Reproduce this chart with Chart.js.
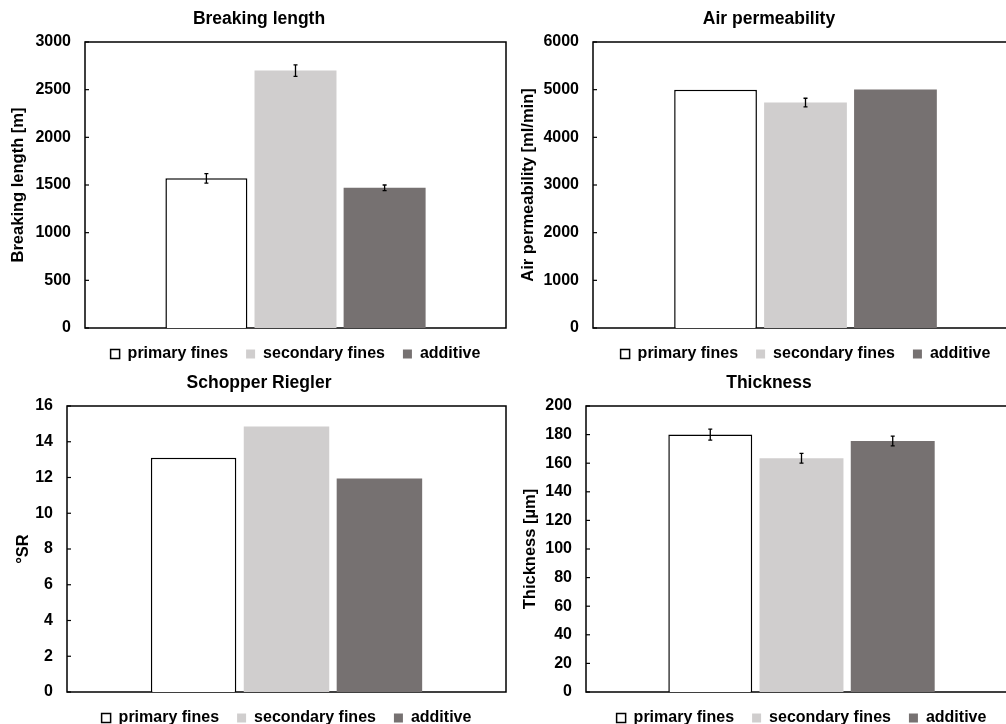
<!DOCTYPE html>
<html>
<head>
<meta charset="utf-8">
<script src="https://cdn.jsdelivr.net/npm/chart.js@4"></script>
<style>
  html, body { margin: 0; padding: 0; background: #fff; width: 1006px; height: 724px; overflow: hidden; position: relative; }
  canvas { position: absolute; }
</style>
</head>
<body>
<canvas id="c0" width="518" height="374" style="left:0px;top:0px"></canvas>
<canvas id="c1" width="526" height="374" style="left:506px;top:0px"></canvas>
<canvas id="c2" width="518" height="374" style="left:0px;top:362px"></canvas>
<canvas id="c3" width="526" height="374" style="left:506px;top:362px"></canvas>
<script>
// data
const seriesNames = ['primary fines', 'secondary fines', 'additive'];
const panelTitles = ['Breaking length', 'Air permeability', 'Schopper Riegler', 'Thickness'];
const axisTitles = ['Breaking length [m]', 'Air permeability [ml/min]', '°SR', 'Thickness [µm]'];

const breakingLength = [1570, 2700, 1470];
const breakingLengthErr = [50, 60, 30];
const airPermeability = [5000, 4730, 5005];
const airPermeabilityErr = [0, 90, 0];
const schopperRiegler = [13.1, 14.85, 11.95];
const schopperRieglerErr = [0, 0, 0];
const thickness = [180, 163.5, 175.5];
const thicknessErr = [3.8, 3.4, 3.4];

const axisMax = [3000, 6000, 16, 200];
const axisStep = [500, 1000, 2, 20];

const values = [breakingLength, airPermeability, schopperRiegler, thickness];
const errors = [breakingLengthErr, airPermeabilityErr, schopperRieglerErr, thicknessErr];

const fillColors = ['#ffffff', '#d0cece', '#767171'];
const borderWidths = [1.5, 0, 0];

// layout of each panel (pixels)
const layoutInfo = [
  { yw: 85, rw: 12, tTop: 8.5, tBot: 12.5, yPad: 8.1, pBot: 2 },
  { yw: 87, rw: 14, tTop: 8.5, tBot: 12.5, yPad: 12.1, pBot: 2 },
  { yw: 67, rw: 12, tTop: 10.5, tBot: 12.5, yPad: 13.1, pBot: 0 },
  { yw: 80, rw: 15, tTop: 10.5, tBot: 12.5, yPad: 14.1, pBot: 0 }
];

const FONT = 'Liberation Sans, Arial, sans-serif';
Chart.defaults.font.family = FONT;
Chart.defaults.color = '#000';

// plot frame with small inside ticks
const frame = {
  id: 'frame',
  beforeDatasetsDraw(chart) {
    const a = chart.chartArea, ctx = chart.ctx, y = chart.scales.y;
    ctx.save();
    ctx.strokeStyle = '#000';
    ctx.lineWidth = 1.5;
    ctx.strokeRect(a.left, a.top, a.right - a.left, a.bottom - a.top);
    ctx.lineWidth = 1.2;
    y.ticks.forEach(t => {
      const py = y.getPixelForValue(t.value);
      ctx.beginPath();
      ctx.moveTo(a.left, py);
      ctx.lineTo(a.left + 4, py);
      ctx.stroke();
    });
    ctx.restore();
  }
};

// error bars from the err arrays
const errorBars = {
  id: 'errorBars',
  afterDatasetsDraw(chart, args, opts) {
    const ctx = chart.ctx, y = chart.scales.y;
    ctx.save();
    ctx.strokeStyle = '#000';
    ctx.lineWidth = 1.3;
    chart.data.datasets.forEach((ds, i) => {
      const e = opts.errors[i];
      if (!e) return;
      const bar = chart.getDatasetMeta(i).data[0];
      const v = ds.data[0];
      const t = y.getPixelForValue(v + e), b = y.getPixelForValue(v - e);
      ctx.beginPath();
      ctx.moveTo(bar.x, t); ctx.lineTo(bar.x, b);
      ctx.moveTo(bar.x - 2, t); ctx.lineTo(bar.x + 2, t);
      ctx.moveTo(bar.x - 2, b); ctx.lineTo(bar.x + 2, b);
      ctx.stroke();
    });
    ctx.restore();
  }
};

for (let p = 0; p < 4; p++) {
  const L = layoutInfo[p];
  new Chart(document.getElementById('c' + p), {
    type: 'bar',
    data: {
      labels: [''],
      datasets: seriesNames.map((name, i) => ({
        label: name,
        data: [values[p][i]],
        backgroundColor: fillColors[i],
        borderColor: '#000',
        borderWidth: borderWidths[i],
        yAxisID: 'y',
        categoryPercentage: 0.635,
        barPercentage: 0.92
      }))
    },
    options: {
      responsive: false,
      animation: false,
      events: [],
      layout: { padding: { left: 0, right: 0, top: 0, bottom: L.pBot } },
      scales: {
        y: {
          position: 'left',
          min: 0,
          max: axisMax[p],
          ticks: {
            stepSize: axisStep[p],
            padding: 14,
            font: { size: 16, weight: 'bold' },
            callback: v => String(v)
          },
          grid: { display: false, drawTicks: false },
          border: { display: false },
          title: {
            display: true,
            text: axisTitles[p],
            font: { size: 16.5, weight: 'bold' },
            padding: { top: L.yPad, bottom: 0 }
          },
          afterFit: s => { s.width = L.yw; }
        },
        yR: {
          position: 'right',
          display: true,
          ticks: { display: false },
          grid: { display: false, drawTicks: false },
          border: { display: false },
          afterFit: s => { s.width = L.rw; }
        },
        x: {
          ticks: { display: false },
          grid: { display: false, drawTicks: false },
          border: { display: false },
          afterFit: s => { s.height = 0; }
        }
      },
      plugins: {
        title: {
          display: true,
          text: panelTitles[p],
          font: { size: 17.5, weight: 'bold' },
          padding: { top: L.tTop, bottom: L.tBot }
        },
        legend: {
          position: 'bottom',
          fullSize: false,
          labels: {
            boxWidth: 9,
            boxHeight: 9,
            padding: 18,
            font: { size: 16, weight: 'bold' }
          }
        },
        tooltip: { enabled: false },
        errorBars: { errors: errors[p] }
      }
    },
    plugins: [frame, errorBars]
  });
}
</script>
</body>
</html>
